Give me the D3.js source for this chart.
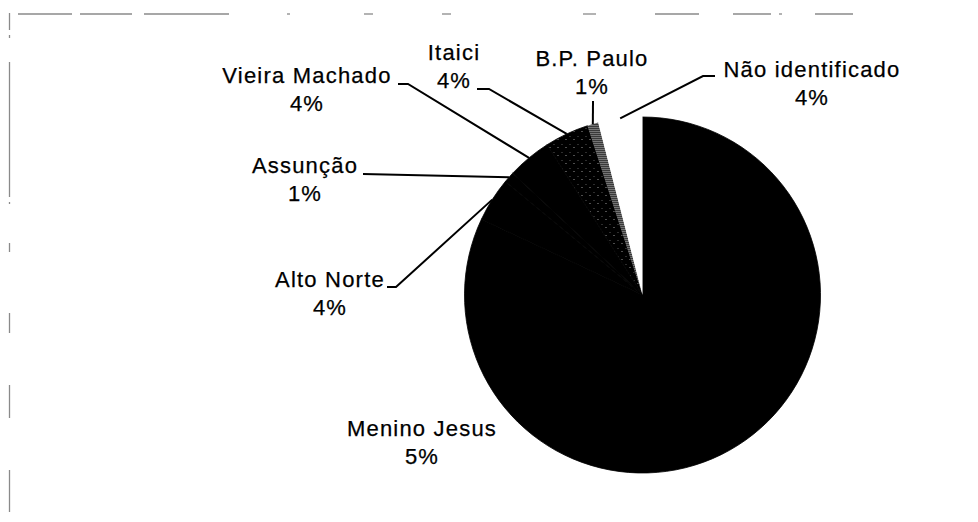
<!DOCTYPE html>
<html>
<head>
<meta charset="utf-8">
<script src="https://cdn.jsdelivr.net/npm/d3@7/dist/d3.min.js"></script>
<style>
  html, body { margin: 0; padding: 0; background: #fff; }
  svg { display: block; }
  text { font-family: "Liberation Sans", Arial, sans-serif; font-size: 22px; letter-spacing: 1.2px; fill: #000; stroke: #000; stroke-width: 0.25px; }
</style>
</head>
<body>
<svg id="chart" width="978" height="522"></svg>
<script>
// Origem dos registros por localidade (fatias no sentido horário a partir do topo)
const categories = ["Menino Jesus", "Alto Norte", "Assunção", "Vieira Machado", "Itaici", "B.P. Paulo", "Não identificado"];
const shares = [82, 4, 1, 4, 4, 1, 4];
const shareLabels = ["5%", "4%", "1%", "4%", "4%", "1%", "4%"];

const cx = 642.5, cy = 295, R = 178;

const svg = d3.select("#chart");
const defs = svg.append("defs");

// stippled fills
const pDark = defs.append("pattern").attr("id", "stippleDark")
  .attr("patternUnits", "userSpaceOnUse").attr("width", 2).attr("height", 2);
pDark.append("rect").attr("width", 2).attr("height", 2).attr("fill", "#3a3a3a");
pDark.append("rect").attr("x", 0).attr("y", 0).attr("width", 1).attr("height", 1).attr("fill", "#b0b0b0");

const pSpeck = defs.append("pattern").attr("id", "speckles")
  .attr("patternUnits", "userSpaceOnUse").attr("width", 8).attr("height", 8);
pSpeck.append("rect").attr("width", 8).attr("height", 8).attr("fill", "#000");
pSpeck.append("rect").attr("x", 3).attr("y", 4).attr("width", 1).attr("height", 1).attr("fill", "#9a9a9a");
pSpeck.append("rect").attr("x", 7).attr("y", 1).attr("width", 1).attr("height", 1).attr("fill", "#5a5a5a");

const fills = {
  "Menino Jesus": "#000",
  "Alto Norte": "#000",
  "Assunção": "#000",
  "Vieira Machado": "#000",
  "Itaici": "url(#speckles)",
  "B.P. Paulo": "url(#stippleDark)",
  "Não identificado": "#fff"
};
const edges = {
  "Menino Jesus": "#000", "Alto Norte": "#000", "Assunção": "#000", "Vieira Machado": "#000",
  "Itaici": "#000", "B.P. Paulo": "none", "Não identificado": "none"
};

// broken frame around the plot area
const frame = svg.append("g").attr("stroke", "#8a8a8a").attr("stroke-width", 1.3).attr("fill", "none");
const topSegs = [[18, 72], [80, 132], [144, 229], [287, 290], [364, 373], [442, 451], [583, 596], [655, 699], [733, 771], [779, 782], [815, 853]];
const leftSegs = [[13, 30], [35, 38], [62, 197], [202, 204], [243, 252], [313, 333], [385, 418], [470, 512]];
topSegs.forEach(s => frame.append("line").attr("x1", s[0]).attr("x2", s[1]).attr("y1", 14).attr("y2", 14));
leftSegs.forEach(s => frame.append("line").attr("x1", 9.5).attr("x2", 9.5).attr("y1", s[0]).attr("y2", s[1]));

const data = categories.map((c, i) => ({ name: c, value: shares[i], label: shareLabels[i] }));
const pie = d3.pie().value(d => d.value).sort(null);
const arcs = pie(data);
const arc = d3.arc().innerRadius(0).outerRadius(R);

const g = svg.append("g").attr("transform", `translate(${cx},${cy})`);
g.selectAll("path").data(arcs).join("path")
  .attr("d", arc)
  .attr("fill", d => fills[d.data.name])
  .attr("stroke", d => edges[d.data.name])
  .attr("stroke-width", 0.8)
  .attr("stroke-linejoin", "round");

// point on the pie rim at the middle of a slice
function rim(d) {
  const a = (d.startAngle + d.endAngle) / 2;
  return [cx + R * Math.sin(a), cy - R * Math.cos(a)];
}

// label placement: text centre x, first baseline y, leader start points
const layout = {
  "Menino Jesus":     { x: 422, y: 436, leader: null },
  "Alto Norte":       { x: 330, y: 287, leader: [[387, 287], [396, 287]] },
  "Assunção":         { x: 305, y: 173, leader: [[363, 174]] },
  "Vieira Machado":   { x: 307, y: 83,  leader: [[398, 84], [408, 84]] },
  "Itaici":           { x: 454, y: 60,  leader: [[477, 89], [489, 89]] },
  "B.P. Paulo":       { x: 592, y: 66,  leader: [[593, 101]] },
  "Não identificado": { x: 812, y: 77,  leader: [[715, 76], [703, 76]] }
};

const labels = svg.append("g");
arcs.forEach(d => {
  const L = layout[d.data.name];
  const t = labels.append("text").attr("text-anchor", "middle");
  t.append("tspan").attr("x", L.x).attr("y", L.y).text(d.data.name);
  t.append("tspan").attr("x", L.x).attr("y", L.y + 28).text(d.data.label);
  if (L.leader) {
    const pts = L.leader.concat([rim(d)]);
    labels.append("path")
      .attr("d", d3.line()(pts))
      .attr("fill", "none").attr("stroke", "#000").attr("stroke-width", 2);
  }
});
</script>
</body>
</html>
